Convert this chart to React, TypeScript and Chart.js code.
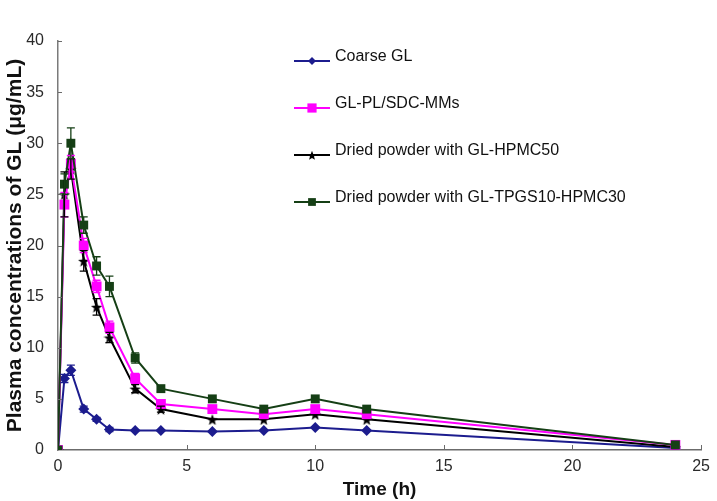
import React, { useEffect, useRef } from "react";
import { Chart, registerables } from "chart.js";

Chart.register(...registerables);

const times = [0, 0.25, 0.5, 1, 1.5, 2, 3, 4, 6, 8, 10, 12, 24];

const coarseGL = [0, 7.0, 7.8, 4.0, 3.0, 2.0, 1.9, 1.9, 1.8, 1.9, 2.2, 1.9, 0.2];
const coarseGLErr = [0, 0.4, 0.5, 0.3, 0.2, 0.2, 0, 0, 0, 0, 0, 0, 0];

const plSdcMMs = [0, 24.0, 28.0, 20.0, 16.0, 12.0, 7.0, 4.5, 4.0, 3.5, 4.0, 3.5, 0.5];
const plSdcMMsErr = [0, 1.2, 0.8, 0.7, 0.6, 0.6, 0.5, 0.3, 0, 0, 0, 0, 0];

const hpmc50 = [0, 25.0, 27.5, 18.5, 14.0, 11.0, 6.0, 4.0, 3.0, 3.0, 3.5, 3.0, 0.3];
const hpmc50Err = [0, 2.2, 1.0, 1.0, 0.8, 0.5, 0.4, 0.3, 0, 0, 0, 0, 0];

const tpgsHpmc30 = [0, 26.0, 30.0, 22.0, 18.0, 16.0, 9.0, 6.0, 5.0, 4.0, 5.0, 4.0, 0.5];
const tpgsHpmc30Err = [0, 1.0, 1.5, 0.8, 0.9, 1.0, 0.5, 0.3, 0, 0, 0, 0, 0];

const seriesNames = [
  "Coarse GL",
  "GL-PL/SDC-MMs",
  "Dried powder with GL-HPMC50",
  "Dried powder with GL-TPGS10-HPMC30",
];

const xTicks = [0, 5, 10, 15, 20, 25];
const yTicks = [0, 5, 10, 15, 20, 25, 30, 35, 40];

const FONT = "'Liberation Sans', Arial, sans-serif";

function makeStar(size: number, color: string) {
  const c = document.createElement("canvas");
  c.width = size;
  c.height = size;
  const ctx = c.getContext("2d")!;
  const cx = size / 2;
  const cy = size / 2;
  const R = size / 2;
  const r = R * 0.42;
  ctx.beginPath();
  for (let i = 0; i < 10; i++) {
    const a = -Math.PI / 2 + (i * Math.PI) / 5;
    const rad = i % 2 === 0 ? R : r;
    const x = cx + rad * Math.cos(a);
    const y = cy + rad * Math.sin(a) + 0.8;
    if (i === 0) ctx.moveTo(x, y);
    else ctx.lineTo(x, y);
  }
  ctx.closePath();
  ctx.fillStyle = color;
  ctx.fill();
  return c;
}

function drawMarker(ctx: CanvasRenderingContext2D, style: any, radius: number, x: number, y: number) {
  if (typeof style !== "string") {
    ctx.drawImage(style, x - style.width / 2, y - style.height / 2);
    return;
  }
  ctx.beginPath();
  if (style === "rect") {
    const s = Math.SQRT1_2 * radius;
    ctx.rect(x - s, y - s, 2 * s, 2 * s);
  } else if (style === "rectRot") {
    ctx.moveTo(x, y - radius);
    ctx.lineTo(x + radius, y);
    ctx.lineTo(x, y + radius);
    ctx.lineTo(x - radius, y);
    ctx.closePath();
  }
  ctx.fill();
}

export default function App() {
  const ref = useRef<HTMLCanvasElement | null>(null);

  useEffect(() => {
    if (!ref.current) return;
    const star = makeStar(12, "#000000");
    const starSmall = makeStar(10, "#000000");

    const mk = (vals: number[]) => times.map((t, i) => ({ x: t, y: vals[i] }));

    const errs = [coarseGLErr, plSdcMMsErr, hpmc50Err, tpgsHpmc30Err];
    const legendMarkers: any[] = [
      { style: "rectRot", radius: 4 },
      { style: "rect", radius: 6.5 },
      { style: starSmall, radius: 5 },
      { style: "rect", radius: 5.5 },
    ];

    const errorBarPlugin = {
      id: "errorBars",
      afterDatasetsDraw(chart: any) {
        const ctx = chart.ctx;
        const xs = chart.scales.x;
        const ys = chart.scales.y;
        chart.data.datasets.forEach((ds: any, di: number) => {
          const e = errs[di];
          ctx.save();
          ctx.strokeStyle = ds.borderColor;
          ctx.lineWidth = 1.3;
          ds.data.forEach((p: any, i: number) => {
            if (!e[i]) return;
            const x = xs.getPixelForValue(p.x);
            const y1 = ys.getPixelForValue(p.y + e[i]);
            const y2 = ys.getPixelForValue(p.y - e[i]);
            ctx.beginPath();
            ctx.moveTo(x, y1);
            ctx.lineTo(x, y2);
            ctx.moveTo(x - 4, y1);
            ctx.lineTo(x + 4, y1);
            ctx.moveTo(x - 4, y2);
            ctx.lineTo(x + 4, y2);
            ctx.stroke();
          });
          ctx.restore();
        });
      },
    };

    const axisTickPlugin = {
      id: "innerTicks",
      afterDraw(chart: any) {
        const ctx = chart.ctx;
        const xs = chart.scales.x;
        const ys = chart.scales.y;
        const { left, bottom } = chart.chartArea;
        ctx.save();
        ctx.strokeStyle = "#6b6b6b";
        ctx.lineWidth = 1;
        xTicks.forEach((t) => {
          if (t === 0) return;
          const x = Math.round(xs.getPixelForValue(t)) + 0.5;
          ctx.beginPath();
          ctx.moveTo(x, bottom);
          ctx.lineTo(x, bottom - 5);
          ctx.stroke();
        });
        yTicks.forEach((t) => {
          if (t === 0) return;
          const y = Math.round(ys.getPixelForValue(t)) + 0.5;
          ctx.beginPath();
          ctx.moveTo(left, y);
          ctx.lineTo(left + 4, y);
          ctx.stroke();
        });
        ctx.restore();
      },
    };

    const legendPlugin = {
      id: "customLegend",
      afterDraw(chart: any) {
        const ctx = chart.ctx;
        const lineX1 = 294;
        const lineX2 = 330;
        const textX = 335;
        const rowsY = [61, 108, 155, 202];
        ctx.save();
        chart.data.datasets.forEach((ds: any, i: number) => {
          const y = rowsY[i];
          ctx.strokeStyle = ds.borderColor;
          ctx.lineWidth = 2;
          ctx.beginPath();
          ctx.moveTo(lineX1, y);
          ctx.lineTo(lineX2, y);
          ctx.stroke();
          const m = legendMarkers[i];
          ctx.fillStyle = ds.backgroundColor;
          drawMarker(ctx, m.style, m.radius, (lineX1 + lineX2) / 2, y);
          ctx.fillStyle = "#111";
          ctx.font = `16px ${FONT}`;
          ctx.textBaseline = "middle";
          ctx.textAlign = "left";
          ctx.fillText(ds.label, textX, y - 4);
        });
        ctx.restore();
      },
    };

    const chart = new Chart(ref.current, {
      type: "line",
      data: {
        datasets: [
          {
            label: seriesNames[0],
            data: mk(coarseGL),
            borderColor: "#1c1c8e",
            backgroundColor: "#1c1c8e",
            borderWidth: 2,
            pointStyle: "rectRot",
            pointRadius: 5.5,
            pointBorderWidth: 0,
            order: 4,
          },
          {
            label: seriesNames[1],
            data: mk(plSdcMMs),
            borderColor: "#ff00ff",
            backgroundColor: "#ff00ff",
            borderWidth: 2,
            pointStyle: "rect",
            pointRadius: 7,
            pointBorderWidth: 0,
            order: 2,
          },
          {
            label: seriesNames[2],
            data: mk(hpmc50),
            borderColor: "#000000",
            backgroundColor: "#000000",
            borderWidth: 2,
            pointStyle: star as any,
            pointRadius: 6,
            pointBorderWidth: 0,
            order: 3,
          },
          {
            label: seriesNames[3],
            data: mk(tpgsHpmc30),
            borderColor: "#153f15",
            backgroundColor: "#153f15",
            borderWidth: 2,
            pointStyle: "rect",
            pointRadius: 6.3,
            pointBorderWidth: 0,
            order: 1,
          },
        ],
      },
      options: {
        animation: false,
        responsive: true,
        maintainAspectRatio: false,
        layout: { padding: { top: 41, right: 13, left: 0, bottom: 0 } },
        plugins: {
          legend: { display: false },
          tooltip: { enabled: false },
        },
        scales: {
          x: {
            type: "linear",
            min: 0,
            max: 25,
            afterBuildTicks: (s: any) => {
              s.ticks = xTicks.map((v) => ({ value: v }));
            },
            afterFit: (s: any) => {
              s.height = 51;
            },
            grid: { display: false, drawTicks: false },
            border: { display: true, color: "#6b6b6b", width: 1.5 },
            ticks: {
              padding: 7,
              color: "#2a2a2a",
              font: { family: FONT, size: 16 },
              maxRotation: 0,
            },
            title: {
              display: true,
              text: "Time (h)",
              color: "#111",
              font: { family: FONT, size: 19, weight: "bold" },
              padding: { top: 0, bottom: 0 },
            },
          },
          y: {
            type: "linear",
            min: 0,
            max: 40,
            afterBuildTicks: (s: any) => {
              s.ticks = yTicks.map((v) => ({ value: v }));
            },
            afterFit: (s: any) => {
              s.width = 58;
            },
            grid: { display: false, drawTicks: false },
            border: { display: true, color: "#7a7a7a", width: 1.5 },
            ticks: {
              padding: 14,
              color: "#2a2a2a",
              font: { family: FONT, size: 16 },
            },
            title: {
              display: true,
              text: "Plasma concentrations of GL (μg/mL)",
              color: "#111",
              font: { family: FONT, size: 21, weight: "bold" },
              padding: { top: 3, bottom: 0 },
            },
          },
        },
      },
      plugins: [errorBarPlugin, axisTickPlugin, legendPlugin],
    });

    return () => chart.destroy();
  }, []);

  return (
    <div style={{ position: "fixed", left: 0, top: 0, width: 717, height: 501, background: "#fff" }}>
      <canvas ref={ref} />
    </div>
  );
}
